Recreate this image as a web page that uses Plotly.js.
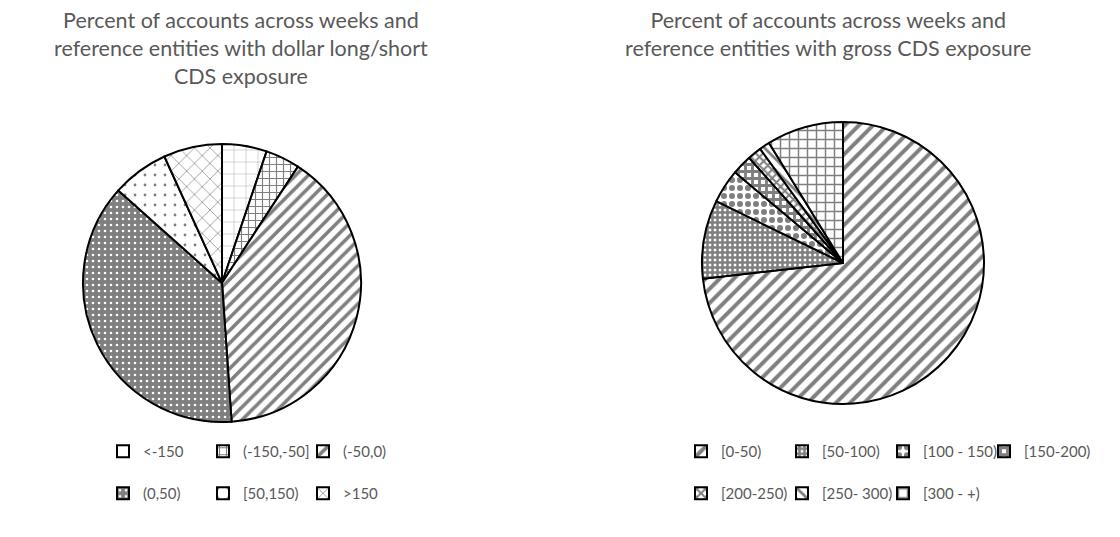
<!DOCTYPE html>
<html>
<head>
<meta charset="utf-8">
<script src="https://cdn.plot.ly/plotly-3.0.1.min.js"></script>
<style>
  body { margin: 0; width: 1120px; height: 537px; overflow: hidden; background: #fff; }
  .c { position: absolute; top: 0; width: 560px; height: 537px; }
</style>
</head>
<body>
<div id="left" class="c" style="left:0"></div>
<div id="right" class="c" style="left:560px"></div>
<script>
// ---- data ----
const leftTitle = "Percent of accounts across weeks and<br>reference entities with dollar long/short<br>CDS exposure";
const leftLabels = ["<-150", "(-150,-50]", "(-50,0)", "(0,50)", "[50,150)", ">150"];
const leftValues = [5.2, 4.0, 39.7, 37.7, 6.6, 6.8];

const rightTitle = "Percent of accounts across weeks and<br>reference entities with gross CDS exposure";
const rightLabels = ["[0-50)", "[50-100)", "[100 - 150)", "[150-200)", "[200-250)", "[250- 300)", "[300 - +)"];
const rightValues = [73.3, 9.0, 3.9, 2.3, 1.6, 1.2, 8.8];

// ---- styles ----
const GRAY = "#7f7f7f";
const TXT = "#595959";
const FONT = "Lato";

const leftPattern = {
  shape:    ["+", "+", "/", ".", ".", "x"],
  fgcolor:  ["#a6a6a6", GRAY, GRAY, "#ffffff", GRAY, GRAY],
  bgcolor:  ["#ffffff", "#ffffff", "#ffffff", GRAY, "#ffffff", "#ffffff"],
  size:     [12, 7, 9, 6, 10, 11],
  solidity: [0.08, 0.3, 0.4, 0.15, 0.06, 0.12],
  fillmode: "replace"
};
const rightPattern = {
  shape:    ["/", "+", ".", "+", "x", "\\", "+"],
  fgcolor:  [GRAY, GRAY, GRAY, GRAY, GRAY, GRAY, GRAY],
  bgcolor:  ["#ffffff", "#ffffff", "#ffffff", "#ffffff", "#ffffff", "#ffffff", "#ffffff"],
  size:     [10, 5, 8, 7, 6, 8, 9],
  solidity: [0.4, 0.75, 0.45, 0.65, 0.55, 0.35, 0.3],
  fillmode: "replace"
};

function legendText(arr) { return arr.map(s => s + "<br>&nbsp;"); }

function pieTrace(labels, values, pattern, dx, dy) {
  return {
    type: "pie",
    labels: legendText(labels),
    values: values,
    sort: false,
    direction: "clockwise",
    rotation: 0,
    textinfo: "none",
    hoverinfo: "percent",
    domain: { x: dx, y: dy },
    marker: {
      colors: labels.map(() => "#ffffff"),
      line: { color: "#000000", width: 2 },
      pattern: pattern
    }
  };
}

function legendCfg(x, y, ew) {
  return {
    orientation: "h", x: x, xanchor: "left", y: y, yanchor: "top",
    entrywidth: ew, entrywidthmode: "pixels", valign: "top",
    font: { family: FONT, size: 15, color: TXT },
    bgcolor: "rgba(0,0,0,0)", itemclick: false, itemdoubleclick: false
  };
}

function titleAnn(text, x) {
  return {
    text: text, xref: "paper", yref: "paper",
    x: x, xanchor: "center", y: 1 - 6 / 537, yanchor: "top",
    showarrow: false, align: "center", borderpad: 0,
    font: { family: FONT, size: 21.5, color: TXT }
  };
}

const H = 537;
// Left chart: plot area 80..420 px
const leftLayout = {
  width: 560, height: H,
  margin: { l: 80, r: 140, t: 0, b: 0, autoexpand: false },
  paper_bgcolor: "#ffffff",
  annotations: [titleAnn(leftTitle, (241 - 80) / 340)],
  showlegend: true,
  legend: legendCfg((103 - 80) / 340, 1 - 435 / H, 55)
};
const leftData = [pieTrace(leftLabels, leftValues, leftPattern,
  [(83 - 80) / 340, (361 - 80) / 340], [(254 - 139) / H, (254 + 139) / H])];

// Right chart: plot area 110..550 px
const rightLayout = {
  width: 560, height: H,
  margin: { l: 110, r: 10, t: 0, b: 0, autoexpand: false },
  paper_bgcolor: "#ffffff",
  annotations: [titleAnn(rightTitle, (268 - 110) / 440)],
  showlegend: true,
  legend: legendCfg((121 - 110) / 440, 1 - 435 / H, 56)
};
const rightData = [pieTrace(rightLabels, rightValues, rightPattern,
  [(142 - 110) / 440, (424 - 110) / 440], [(274 - 141) / H, (274 + 141) / H])];

const cfg = { displayModeBar: false, staticPlot: true };
Promise.all([
  Plotly.newPlot("left", leftData, leftLayout, cfg),
  Plotly.newPlot("right", rightData, rightLayout, cfg)
]).then(() => {
  // let the last legend column's text show past its fixed entry width
  document.querySelectorAll(".legend .scrollbox").forEach(el => el.removeAttribute("clip-path"));
});
</script>
</body>
</html>
